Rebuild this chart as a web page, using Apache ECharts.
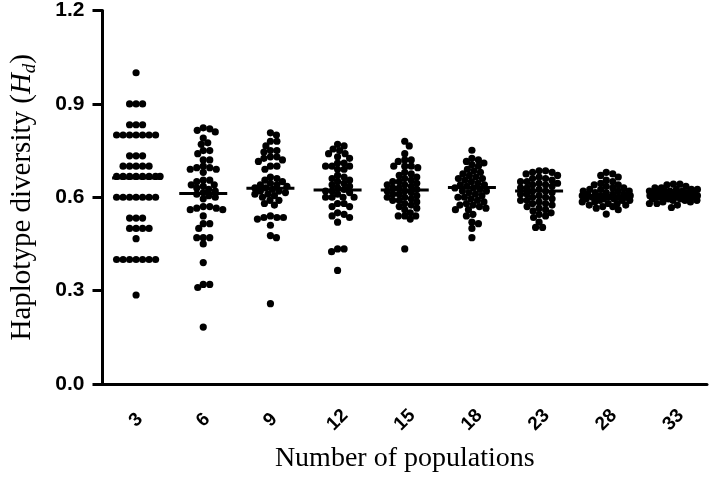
<!DOCTYPE html>
<html>
<head>
<meta charset="utf-8">
<script src="https://cdn.jsdelivr.net/npm/echarts/dist/echarts.min.js"></script>
<style>
  html, body { margin: 0; padding: 0; background: #fff; }
  #main { width: 709px; height: 478px; }
</style>
</head>
<body>
<div id="main"></div>
<script>
// categories (number of populations)
var categories = ['3', '6', '9', '12', '15', '18', '23', '28', '33'];
var yTicks = [0, 0.3, 0.6, 0.9, 1.2];

// haplotype diversity values, one array per category
var hd3 = [1.0, 0.9, 0.9, 0.9, 0.833, 0.833, 0.833, 0.8, 0.8, 0.8, 0.8, 0.8, 0.8, 0.8,
  0.733, 0.733, 0.733, 0.7, 0.7, 0.7, 0.7, 0.7, 0.667, 0.667, 0.667, 0.667, 0.667,
  0.667, 0.667, 0.667, 0.6, 0.6, 0.6, 0.6, 0.6, 0.6, 0.6, 0.533, 0.533, 0.533,
  0.5, 0.5, 0.5, 0.5, 0.467, 0.4, 0.4, 0.4, 0.4, 0.4, 0.4, 0.4, 0.286];
var hd6 = [0.823, 0.815, 0.82, 0.81, 0.79, 0.775, 0.77, 0.75, 0.75, 0.74, 0.72, 0.72,
  0.70, 0.695, 0.695, 0.69, 0.69, 0.68, 0.655, 0.65, 0.655, 0.64, 0.64, 0.635, 0.63,
  0.625, 0.62, 0.615, 0.61, 0.605, 0.60, 0.595, 0.57, 0.565, 0.565, 0.57, 0.56, 0.56,
  0.54, 0.515, 0.515, 0.50, 0.47, 0.47, 0.47, 0.45, 0.39, 0.32, 0.32, 0.31, 0.183];
var hd9 = [0.807, 0.80, 0.78, 0.78, 0.765, 0.75, 0.75, 0.745, 0.73, 0.73, 0.725, 0.72,
  0.715, 0.70, 0.70, 0.69, 0.665, 0.66, 0.655, 0.65, 0.645, 0.64, 0.64, 0.635, 0.63,
  0.63, 0.625, 0.62, 0.62, 0.615, 0.61, 0.61, 0.605, 0.60, 0.59, 0.59, 0.58, 0.575,
  0.54, 0.535, 0.535, 0.535, 0.53, 0.51, 0.477, 0.47, 0.258];
var hd12 = [0.77, 0.765, 0.755, 0.75, 0.74, 0.74, 0.73, 0.725, 0.71, 0.71, 0.70, 0.70,
  0.70, 0.69, 0.69, 0.67, 0.665, 0.66, 0.655, 0.65, 0.645, 0.64, 0.635, 0.63, 0.625,
  0.62, 0.62, 0.615, 0.61, 0.60, 0.60, 0.60, 0.60, 0.58, 0.58, 0.57, 0.57, 0.55,
  0.545, 0.54, 0.535, 0.52, 0.434, 0.434, 0.425, 0.365];
var hd15 = [0.78, 0.765, 0.74, 0.72, 0.72, 0.715, 0.70, 0.70, 0.70, 0.695, 0.68, 0.675,
  0.67, 0.665, 0.66, 0.655, 0.65, 0.65, 0.645, 0.64, 0.64, 0.635, 0.63, 0.63, 0.625,
  0.62, 0.62, 0.615, 0.61, 0.61, 0.605, 0.60, 0.60, 0.595, 0.59, 0.59, 0.585, 0.58,
  0.575, 0.57, 0.565, 0.56, 0.55, 0.54, 0.54, 0.54, 0.53, 0.434];
var hd18 = [0.751, 0.725, 0.72, 0.715, 0.71, 0.705, 0.70, 0.69, 0.685, 0.68, 0.675, 0.67,
  0.665, 0.66, 0.66, 0.655, 0.65, 0.645, 0.64, 0.64, 0.635, 0.63, 0.63, 0.625, 0.62,
  0.62, 0.615, 0.61, 0.605, 0.60, 0.60, 0.595, 0.59, 0.585, 0.58, 0.575, 0.575, 0.57,
  0.565, 0.56, 0.56, 0.545, 0.54, 0.52, 0.515, 0.50, 0.47];
var hd23 = [0.685, 0.685, 0.68, 0.68, 0.675, 0.67, 0.665, 0.66, 0.66, 0.655, 0.65, 0.65,
  0.645, 0.645, 0.64, 0.64, 0.635, 0.63, 0.63, 0.625, 0.62, 0.62, 0.615, 0.61, 0.61,
  0.605, 0.60, 0.60, 0.595, 0.59, 0.59, 0.585, 0.58, 0.58, 0.575, 0.57, 0.565, 0.56,
  0.556, 0.55, 0.545, 0.54, 0.535, 0.52, 0.503, 0.503];
var hd28 = [0.68, 0.675, 0.67, 0.665, 0.655, 0.65, 0.645, 0.64, 0.64, 0.635, 0.63, 0.63,
  0.625, 0.625, 0.62, 0.62, 0.62, 0.615, 0.615, 0.61, 0.61, 0.61, 0.605, 0.605, 0.605,
  0.60, 0.60, 0.60, 0.60, 0.60, 0.595, 0.595, 0.595, 0.59, 0.59, 0.59, 0.585, 0.585,
  0.58, 0.58, 0.575, 0.575, 0.57, 0.57, 0.565, 0.56, 0.546];
var hd33 = [0.642, 0.642, 0.64, 0.635, 0.63, 0.63, 0.625, 0.625, 0.625, 0.62, 0.62, 0.62,
  0.62, 0.615, 0.615, 0.615, 0.615, 0.61, 0.61, 0.61, 0.61, 0.61, 0.605, 0.605, 0.605,
  0.605, 0.60, 0.60, 0.60, 0.60, 0.60, 0.60, 0.595, 0.595, 0.595, 0.59, 0.59, 0.59,
  0.585, 0.585, 0.58, 0.58, 0.575, 0.567];

// mean lines
var means = [0.662, 0.612, 0.629, 0.623, 0.623, 0.631, 0.62, 0.605, 0.61];

var groups = [hd3, hd6, hd9, hd12, hd15, hd18, hd23, hd28, hd33];

var chart = echarts.init(document.getElementById('main'));

var labelFont = { fontFamily: 'Liberation Sans', fontWeight: 'bold', fontSize: 21, color: '#000' };
var nameFont = { fontFamily: 'Liberation Serif', fontSize: 28, color: '#000' };

chart.setOption({
  animation: false,
  grid: { left: 92, right: 2, top: 8, bottom: 94 },
  xAxis: {
    type: 'category',
    data: categories,
    name: 'Number of populations',
    nameLocation: 'middle',
    nameGap: 61,
    nameTextStyle: nameFont,
    axisLine: { lineStyle: { color: '#000', width: 3 } },
    axisTick: { alignWithLabel: true, length: 10, lineStyle: { color: '#000', width: 3 } },
    axisLabel: Object.assign({ interval: 0, rotate: 45, align: 'center', verticalAlign: 'middle', margin: 36 }, labelFont, { fontSize: 19 }),
    splitLine: { show: false }
  },
  yAxis: {
    type: 'value',
    min: 0,
    max: 1.2,
    interval: 0.3,
    name: 'Haplotype diversity ({i|H}{s|d})',
    nameLocation: 'middle',
    nameGap: 63,
    nameTextStyle: Object.assign({}, nameFont, {
      fontSize: 29,
      rich: {
        i: { fontFamily: 'Liberation Serif', fontStyle: 'italic', fontSize: 29, color: '#000' },
        s: { fontFamily: 'Liberation Serif', fontStyle: 'italic', fontSize: 19, color: '#000', padding: [15, 0, 0, 0] }
      }
    }),
    axisLine: { show: true, lineStyle: { color: '#000', width: 3 } },
    axisTick: { show: true, length: 10, lineStyle: { color: '#000', width: 3 } },
    axisLabel: Object.assign({ margin: 18, formatter: function (v) { return v.toFixed(1); } }, labelFont),
    splitLine: { show: false }
  },
  series: []
});

// simple beeswarm: spread points sideways (pixels) so they do not pile up
function swarm(ys, dc, maxHalf) {
  var order = ys.map(function (y, i) { return i; }).sort(function (a, b) { return ys[a] - ys[b]; });
  var placed = [];
  var off = new Array(ys.length);
  order.forEach(function (i) {
    var y = ys[i], best = 0, bestScore = -1, done = false;
    for (var s = 0; s <= maxHalf && !done; s += 0.5) {
      var cands = s === 0 ? [0] : [s, -s];
      for (var k = 0; k < cands.length; k++) {
        var x = cands[k], minD = Infinity;
        for (var j = 0; j < placed.length; j++) {
          var d = Math.hypot(placed[j][0] - x, placed[j][1] - y);
          if (d < minD) minD = d;
        }
        if (minD >= dc) { best = x; done = true; break; }
        if (minD > bestScore) { bestScore = minD; best = x; }
      }
    }
    placed.push([best, y]);
    off[i] = best;
  });
  return off;
}

var dots = [];
groups.forEach(function (vals, ci) {
  var ys = vals.map(function (v) { return chart.convertToPixel({ yAxisIndex: 0 }, v); });
  var offs = swarm(ys, 6.2, 24);
  vals.forEach(function (v, k) { dots.push([ci, v, offs[k]]); });
});

var meanData = means.map(function (m, i) { return [i, m]; });

chart.setOption({
  series: [
    {
      type: 'custom',
      data: dots,
      encode: { x: 0, y: 1 },
      renderItem: function (params, api) {
        var p = api.coord([api.value(0), api.value(1)]);
        return {
          type: 'circle',
          shape: { cx: p[0] + api.value(2), cy: p[1], r: 3.6 },
          style: { fill: '#000' }
        };
      }
    },
    {
      type: 'custom',
      data: meanData,
      encode: { x: 0, y: 1 },
      z: 3,
      renderItem: function (params, api) {
        var p = api.coord([api.value(0), api.value(1)]);
        return {
          type: 'line',
          shape: { x1: p[0] - 24, y1: p[1], x2: p[0] + 24, y2: p[1] },
          style: { stroke: '#000', lineWidth: 3 }
        };
      }
    }
  ]
});
</script>
</body>
</html>
